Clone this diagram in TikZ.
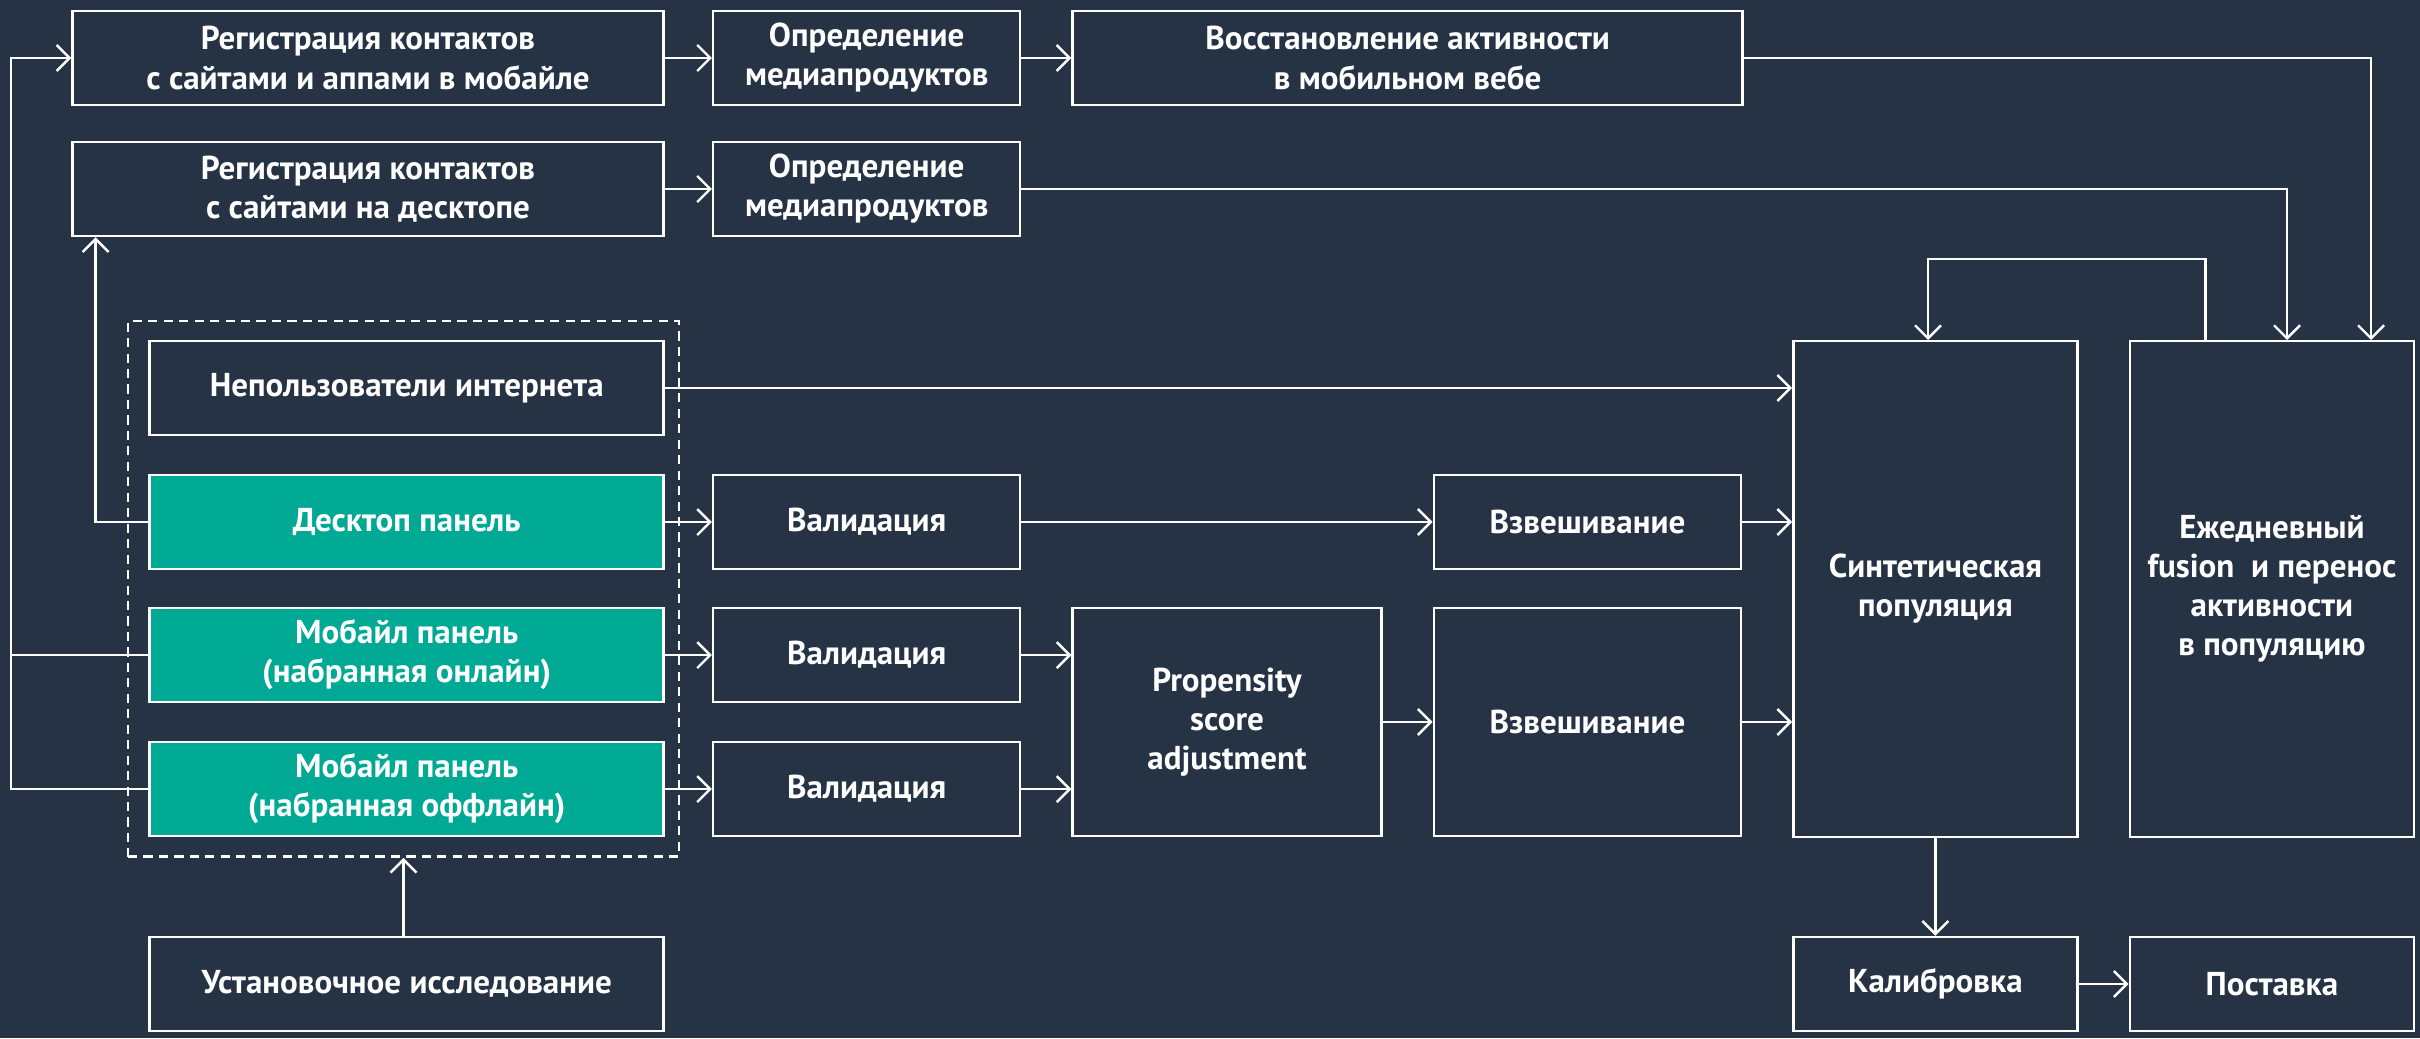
\documentclass[tikz,border=0pt]{standalone}
\usepackage{fontspec}
\setmainfont{PT Sans}
\usepackage{tikz}
\usetikzlibrary{arrows.meta}
\definecolor{bgnavy}{HTML}{253345}
\definecolor{panelteal}{HTML}{00A994}
\pgfdeclarelayer{nodelayer}
\pgfdeclarelayer{edgelayer}
\pgfsetlayers{edgelayer,nodelayer,main}
\tikzstyle{none}=[inner sep=0pt]
\tikzstyle{box}=[shape=rectangle, draw=white, fill=bgnavy, line width=0.7pt, text=white, align=center,
font=\bfseries\fontsize{9.4}{11.1}\selectfont, minimum height=0.94cm, inner sep=0pt]
\tikzstyle{panel}=[style=box, fill=panelteal]
\tikzstyle{plain}=[draw=white, line width=0.7pt]
\tikzstyle{flow}=[style=plain, -{Straight Barb[length=1.3mm,width=2.6mm]}]
\tikzstyle{dashgroup}=[shape=rectangle, draw=white, line width=0.7pt, dash pattern=on 2.6pt off 1.8pt]

\begin{document}
\begin{tikzpicture}
	\begin{pgfonlayer}{edgelayer}
		\fill [bgnavy] (0, 0) rectangle (24.2, 10.38);
	\end{pgfonlayer}
	\useasboundingbox (0, 0) rectangle (24.2, 10.38);
	\begin{pgfonlayer}{nodelayer}
		\node [style=box, minimum width=5.91cm] (0) at (3.68, 9.8) {Регистрация контактов\\с сайтами и аппами в мобайле};
		\node [style=box, minimum width=3.07cm] (1) at (8.667, 9.8) {Определение\\медиапродуктов};
		\node [style=box, minimum width=6.7cm] (2) at (14.076, 9.8) {Восстановление активности\\в мобильном вебе};
		\node [style=box, minimum width=5.91cm] (3) at (3.68, 8.49) {Регистрация контактов\\с сайтами на десктопе};
		\node [style=box, minimum width=3.07cm] (4) at (8.667, 8.49) {Определение\\медиапродуктов};
		\node [style=box, minimum width=5.14cm] (5) at (4.067, 6.5) {Непользователи интернета};
		\node [style=panel, minimum width=5.14cm] (6) at (4.067, 5.16) {Десктоп панель};
		\node [style=panel, minimum width=5.14cm] (7) at (4.067, 3.83) {Мобайл панель\\(набранная онлайн)};
		\node [style=panel, minimum width=5.14cm] (8) at (4.067, 2.49) {Мобайл панель\\(набранная оффлайн)};
		\node [style=box, minimum width=5.14cm] (9) at (4.067, 0.54) {Установочное исследование};
		\node [style=box, minimum width=3.07cm] (10) at (8.667, 5.16) {Валидация};
		\node [style=box, minimum width=3.07cm] (11) at (8.667, 3.83) {Валидация};
		\node [style=box, minimum width=3.07cm] (12) at (8.667, 2.49) {Валидация};
		\node [style=box, minimum width=3.086cm, minimum height=2.285cm] (13) at (12.27, 3.16) {Propensity\\score\\adjustment};
		\node [style=box, minimum width=3.07cm] (14) at (15.874, 5.16) {Взвешивание};
		\node [style=box, minimum width=3.07cm, minimum height=2.285cm] (15) at (15.874, 3.16) {Взвешивание};
		\node [style=box, minimum width=2.84cm, minimum height=4.955cm] (16) at (19.354, 4.49) {Синтетическая\\популяция};
		\node [style=box, minimum width=2.84cm, minimum height=4.955cm] (17) at (22.719, 4.49) {Ежедневный\\fusion\ \ и перенос\\активности\\в популяцию};
		\node [style=box, minimum width=2.84cm] (18) at (19.354, 0.54) {Калибровка};
		\node [style=box, minimum width=2.84cm] (19) at (22.719, 0.54) {Поставка};
		\node [style=none] (21) at (0.108, 9.8) {};
		\node [style=none] (22) at (0.108, 2.49) {};
		\node [style=none] (23) at (0.108, 3.83) {};
		\node [style=none] (24) at (0.957, 5.16) {};
		\node [style=none] (25) at (23.71, 9.8) {};
		\node [style=none] (26) at (22.87, 8.49) {};
		\node [style=none] (27) at (22.055, 7.79) {};
		\node [style=none] (28) at (19.28, 7.79) {};
	\end{pgfonlayer}
	\begin{pgfonlayer}{edgelayer}
		\node [style=dashgroup, minimum width=5.51cm, minimum height=5.356cm] (20) at (4.035, 4.492) {};
		\draw [style=flow] (8.west) to (22.center) to (21.center) to (0.west);
		\draw [style=plain] (7.west) to (23.center);
		\draw [style=flow] (6.west) to (24.center) to (24.center |- 3.south);
		\draw [style=flow] (0.east) to (1.west);
		\draw [style=flow] (1.east) to (2.west);
		\draw [style=flow] (3.east) to (4.west);
		\draw [style=flow] (2.east) to (25.center) to (25.center |- 17.north);
		\draw [style=flow] (4.east) to (26.center) to (26.center |- 17.north);
		\draw [style=flow] (27.center |- 17.north) to (27.center) to (28.center) to (28.center |- 16.north);
		\draw [style=flow] (5.east) to (5.east -| 16.west);
		\draw [style=flow] (6.east) to (10.west);
		\draw [style=flow] (10.east) to (14.west);
		\draw [style=flow] (14.east) to (14.east -| 16.west);
		\draw [style=flow] (7.east) to (11.west);
		\draw [style=flow] (8.east) to (12.west);
		\draw [style=flow] (11.east) to (11.east -| 13.west);
		\draw [style=flow] (12.east) to (12.east -| 13.west);
		\draw [style=flow] (13.east) to (15.west);
		\draw [style=flow] (15.east) to (15.east -| 16.west);
		\draw [style=flow] (20.south |- 9.north) to (20.south);
		\draw [style=flow] (16.south) to (18.north);
		\draw [style=flow] (18.east) to (19.west);
	\end{pgfonlayer}
\end{tikzpicture}
\end{document}
